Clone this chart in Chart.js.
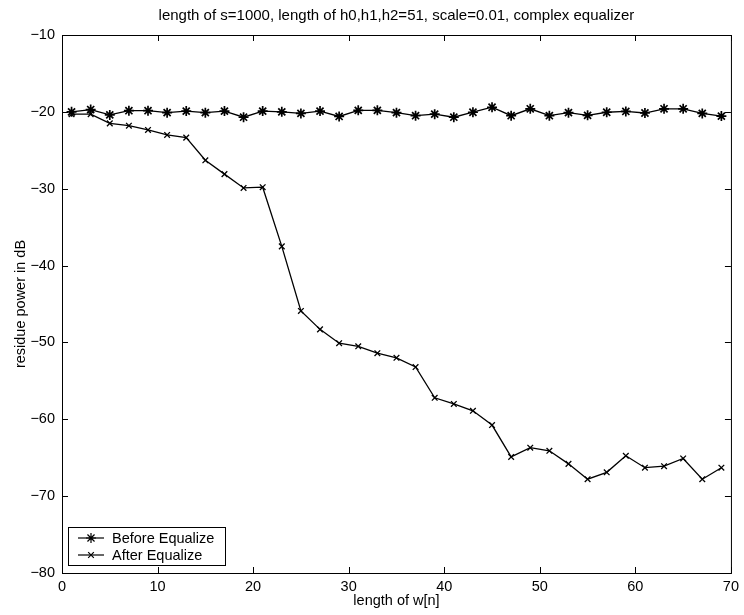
<!DOCTYPE html>
<html>
<head>
<meta charset="utf-8">
<script src="https://cdn.jsdelivr.net/npm/chart.js@4.4.0/dist/chart.umd.min.js"></script>
<style>
  html, body { margin: 0; padding: 0; background: #fff; }
  #wrap { width: 744px; height: 615px; }
</style>
</head>
<body>
<div id="wrap"><canvas id="chart" width="744" height="615"></canvas></div>
<script>
'use strict';

// filter lengths (x axis)
const filterLength = [1, 3, 5, 7, 9, 11, 13, 15, 17, 19, 21, 23, 25, 27, 29, 31, 33, 35,
    37, 39, 41, 43, 45, 47, 49, 51, 53, 55, 57, 59, 61, 63, 65, 67, 69];

// residue power in dB
const beforeEqualize = [-20.0, -19.7, -20.4, -19.85, -19.85, -20.1, -19.9, -20.1, -19.9, -20.7,
    -19.9, -20.0, -20.2, -19.9, -20.6, -19.8, -19.8, -20.1,
    -20.5, -20.3, -20.7, -20.05, -19.4, -20.5, -19.6, -20.5, -20.1, -20.45, -20.05, -19.95,
    -20.15, -19.6, -19.6, -20.2, -20.55];
const afterEqualize = [-20.3, -20.3, -21.5, -21.8, -22.35, -23.0, -23.35, -26.3, -28.1, -29.9,
    -29.8, -37.5, -45.9, -48.3, -50.1, -50.5, -51.4, -52.0,
    -53.2, -57.2, -58.0, -58.9, -60.75, -64.9, -63.7, -64.1, -65.8, -67.8, -66.9, -64.75,
    -66.3, -66.1, -65.1, -67.8, -66.3];

const xTicks = [0, 10, 20, 30, 40, 50, 60, 70];
const yTicks = [-80, -70, -60, -50, -40, -30, -20, -10];

const FONT = 'Liberation Sans, Arial, Helvetica, sans-serif';

function toPoints(ys) {
    return filterLength.map((x, i) => ({ x: x, y: ys[i] }));
}

// MATLAB-like box with inward ticks and the legend in the lower left corner
const boxPlugin = {
    id: 'matlabBox',
    afterDatasetsDraw(chart) {
        const { ctx, chartArea: a, scales } = chart;
        ctx.save();
        ctx.strokeStyle = '#000';
        ctx.lineWidth = 1;
        ctx.strokeRect(a.left + 0.5, a.top + 0.5, a.right - a.left, a.bottom - a.top);

        const len = 6;
        ctx.beginPath();
        xTicks.forEach(v => {
            const px = Math.round(scales.x.getPixelForValue(v)) + 0.5;
            ctx.moveTo(px, a.bottom); ctx.lineTo(px, a.bottom - len);
            ctx.moveTo(px, a.top); ctx.lineTo(px, a.top + len);
        });
        yTicks.forEach(v => {
            const py = Math.round(scales.y.getPixelForValue(v)) + 0.5;
            ctx.moveTo(a.left, py); ctx.lineTo(a.left + len, py);
            ctx.moveTo(a.right, py); ctx.lineTo(a.right - len, py);
        });
        ctx.stroke();

        // legend
        const bx = a.left + 6, by = a.bottom - 46, bw = 157, bh = 38;
        ctx.fillStyle = '#fff';
        ctx.fillRect(bx, by, bw, bh);
        ctx.strokeRect(bx + 0.5, by + 0.5, bw, bh);
        ctx.font = '14.5px ' + FONT;
        ctx.textBaseline = 'middle';
        chart.data.datasets.forEach((ds, i) => {
            const y = by + 11 + i * 17;
            ctx.beginPath();
            ctx.moveTo(bx + 10, y);
            ctx.lineTo(bx + 36, y);
            ctx.lineWidth = 1.2;
            ctx.stroke();
            Chart.helpers.drawPoint(ctx, {
                pointStyle: ds.pointStyle, radius: ds.pointRadius, borderWidth: 1.3
            }, bx + 23, y);
            ctx.fillStyle = '#000';
            ctx.fillText(ds.label, bx + 44, y + 1);
        });
        ctx.restore();
    }
};

const canvas = document.getElementById('chart');
new Chart(canvas, {
    type: 'line',
    data: {
        datasets: [{
            label: 'Before Equalize',
            data: toPoints(beforeEqualize),
            borderColor: '#000',
            borderWidth: 1.3,
            pointStyle: 'star',
            pointRadius: 5,
            pointBorderWidth: 1.7,
            pointBorderColor: '#000',
            pointBackgroundColor: '#000',
            tension: 0
        }, {
            label: 'After Equalize',
            data: toPoints(afterEqualize),
            borderColor: '#000',
            borderWidth: 1.3,
            pointStyle: 'crossRot',
            pointRadius: 4,
            pointBorderWidth: 1.3,
            pointBorderColor: '#000',
            tension: 0
        }]
    },
    options: {
        responsive: false,
        animation: false,
        layout: { padding: { left: 0, right: 7, top: 0, bottom: 0 } },
        plugins: {
            legend: { display: false },
            tooltip: { enabled: false },
            title: {
                display: true,
                fullSize: false,
                text: 'length of s=1000, length of h0,h1,h2=51, scale=0.01, complex equalizer',
                color: '#000',
                font: { family: FONT, size: 15, weight: 'normal', lineHeight: 1.2 },
                padding: { top: 7, bottom: 10 }
            }
        },
        scales: {
            x: {
                type: 'linear',
                min: 0,
                max: 70,
                afterBuildTicks: s => { s.ticks = xTicks.map(v => ({ value: v })); },
                afterFit: s => { s.height = 42; },
                grid: { display: false, drawTicks: false },
                border: { display: false },
                ticks: {
                    color: '#000',
                    padding: 5,
                    maxRotation: 0,
                    font: { family: FONT, size: 14.5 }
                },
                title: {
                    display: true,
                    text: 'length of w[n]',
                    color: '#000',
                    font: { family: FONT, size: 14.5 },
                    padding: { top: 0, bottom: 5 }
                }
            },
            y: {
                type: 'linear',
                min: -80,
                max: -10,
                afterBuildTicks: s => { s.ticks = yTicks.map(v => ({ value: v })); },
                afterFit: s => { s.width = 62; },
                grid: { display: false, drawTicks: false },
                border: { display: false },
                ticks: {
                    color: '#000',
                    padding: 7,
                    font: { family: FONT, size: 14.5 },
                    callback: v => String(v).replace('-', '\u2212')
                },
                title: {
                    display: true,
                    text: 'residue power in dB',
                    color: '#000',
                    font: { family: FONT, size: 14.5 },
                    padding: { top: 12, bottom: 0 }
                }
            }
        }
    },
    plugins: [boxPlugin]
});
</script>
</body>
</html>
